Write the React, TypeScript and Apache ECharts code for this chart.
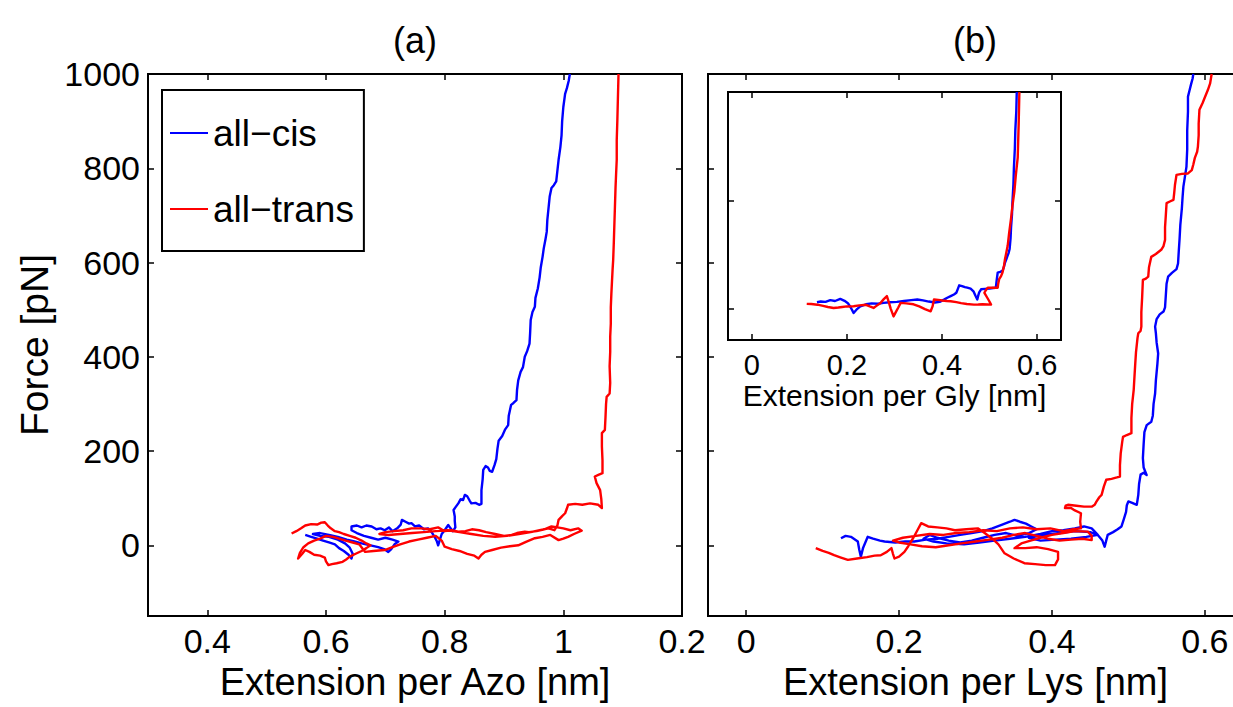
import React, { useEffect, useRef } from "react";
import * as echarts from "echarts";

// Panel (a): extension per Azo [nm] vs force [pN]
const cisA: number[][] = [
  [0.565, 22], [0.575, 18], [0.585, 14], [0.595, 10], [0.605, 6], [0.615, 2], [0.622, -6], [0.63, -12],
  [0.638, -20], [0.643, -28], [0.645, -18], [0.64, -5], [0.632, 4], [0.62, 12], [0.605, 18], [0.59, 20],
  [0.578, 24], [0.59, 26], [0.605, 22], [0.62, 18], [0.635, 12], [0.648, 8], [0.66, 4], [0.675, 0],
  [0.688, -4], [0.698, -8], [0.705, -14], [0.71, -8], [0.716, 3], [0.722, 8], [0.712, 12], [0.7, 16],
  [0.688, 12], [0.676, 16], [0.664, 20], [0.652, 26], [0.643, 32], [0.643, 40], [0.652, 42], [0.66, 38],
  [0.668, 42], [0.677, 40], [0.685, 34], [0.692, 36], [0.699, 32], [0.706, 38], [0.712, 30], [0.72, 36],
  [0.726, 44], [0.728, 54], [0.734, 50], [0.74, 46], [0.744, 47], [0.75, 40], [0.757, 42], [0.765, 34],
  [0.772, 36], [0.778, 28], [0.783, 18], [0.787, 8], [0.789, 0], [0.792, 12], [0.795, 24], [0.8, 32],
  [0.806, 43], [0.81, 36], [0.814, 30], [0.818, 38], [0.817, 52], [0.817, 61], [0.815, 75], [0.819, 82],
  [0.823, 89], [0.827, 98], [0.831, 96], [0.834, 107], [0.838, 104], [0.842, 95], [0.845, 89], [0.852, 90],
  [0.858, 86], [0.862, 88], [0.862, 117], [0.864, 140], [0.865, 160], [0.869, 168], [0.873, 165], [0.876, 158],
  [0.88, 156], [0.884, 170], [0.887, 183], [0.889, 205], [0.891, 222], [0.897, 232], [0.902, 246], [0.907, 255],
  [0.908, 275], [0.912, 298], [0.916, 302], [0.921, 308], [0.922, 330], [0.924, 350], [0.928, 368], [0.932, 378],
  [0.935, 400], [0.939, 412], [0.943, 428], [0.944, 450], [0.945, 478], [0.948, 495], [0.952, 506], [0.953, 525],
  [0.957, 545], [0.96, 568], [0.962, 590], [0.965, 612], [0.967, 630], [0.97, 650], [0.972, 665], [0.973, 690],
  [0.975, 715], [0.977, 740], [0.98, 758], [0.984, 764], [0.988, 772], [0.99, 795], [0.992, 818], [0.995, 845],
  [0.997, 870], [0.998, 900], [1.0, 930], [1.003, 958], [1.006, 970], [1.009, 985], [1.011, 1000],
];

const transA: number[][] = [
  [0.542, 25], [0.55, 30], [0.558, 36], [0.565, 42], [0.575, 45], [0.585, 44], [0.592, 48], [0.598, 49],
  [0.603, 42], [0.608, 36], [0.615, 30], [0.622, 28], [0.63, 24], [0.64, 20], [0.65, 16], [0.66, 10],
  [0.668, 4], [0.675, 0], [0.668, -6], [0.66, -12], [0.65, -18], [0.64, -24], [0.634, -30], [0.628, -35],
  [0.618, -38], [0.61, -40], [0.604, -42], [0.6, -34], [0.598, -26], [0.59, -22], [0.58, -20], [0.572, -14],
  [0.565, -10], [0.56, -18], [0.553, -28], [0.556, -16], [0.562, -4], [0.57, 4], [0.58, 10], [0.59, 14],
  [0.6, 20], [0.612, 18], [0.622, 14], [0.633, 10], [0.645, 6], [0.656, 2], [0.666, -14], [0.68, -12],
  [0.699, -10], [0.712, -4], [0.725, 2], [0.74, 8], [0.755, 12], [0.77, 16], [0.785, 20], [0.795, 10],
  [0.8, -3], [0.812, -8], [0.825, -12], [0.838, -18], [0.85, -22], [0.857, -28], [0.862, -20], [0.868, -14],
  [0.88, -10], [0.895, -5], [0.91, -2], [0.924, 0], [0.938, 8], [0.952, 15], [0.965, 18], [0.978, 22],
  [0.992, 11], [1.0, 14], [1.008, 18], [1.018, 24], [1.031, 31], [1.025, 36], [1.012, 32], [1.0, 36],
  [0.99, 38], [0.98, 40], [0.968, 34], [0.955, 30], [0.942, 28], [0.935, 29], [0.922, 26], [0.913, 22],
  [0.9, 20], [0.885, 24], [0.87, 28], [0.858, 32], [0.846, 34], [0.835, 30], [0.823, 29], [0.812, 32],
  [0.8, 30], [0.789, 38], [0.775, 34], [0.76, 36], [0.744, 36], [0.73, 32], [0.715, 30], [0.7, 28],
  [0.69, 24], [0.705, 22], [0.725, 24], [0.745, 26], [0.765, 28], [0.785, 30], [0.805, 32], [0.825, 28],
  [0.845, 24], [0.865, 20], [0.885, 18], [0.905, 20], [0.925, 24], [0.945, 28], [0.96, 32], [0.975, 36],
  [0.985, 32], [0.99, 42], [0.992, 54], [0.998, 62], [1.003, 68], [1.006, 78], [1.008, 86], [1.02, 88],
  [1.032, 86], [1.045, 89], [1.059, 86], [1.065, 79], [1.064, 98], [1.062, 117], [1.056, 132], [1.053, 146],
  [1.06, 150], [1.066, 153], [1.066, 180], [1.065, 210], [1.065, 238], [1.07, 245], [1.071, 270], [1.072, 300],
  [1.073, 315], [1.078, 322], [1.079, 345], [1.078, 380], [1.079, 410], [1.079, 443], [1.08, 470], [1.08, 505],
  [1.081, 535], [1.082, 560], [1.083, 585], [1.084, 605], [1.085, 640], [1.086, 680], [1.087, 720], [1.088, 760],
  [1.089, 790], [1.09, 818], [1.09, 860], [1.091, 900], [1.092, 950], [1.093, 1000],
];

// Panel (b): extension per Lys [nm] vs force [pN]
const cisB: number[][] = [
  [0.124, 15], [0.13, 20], [0.137, 18], [0.146, 8], [0.148, -10], [0.15, -24], [0.153, -5], [0.159, 18],
  [0.166, 14], [0.175, 10], [0.181, 8], [0.195, 6], [0.208, 8], [0.22, 8], [0.235, 12], [0.25, 14],
  [0.265, 18], [0.28, 22], [0.295, 26], [0.31, 30], [0.322, 36], [0.335, 44], [0.345, 50], [0.351, 54],
  [0.358, 50], [0.366, 46], [0.373, 40], [0.38, 34], [0.37, 26], [0.355, 20], [0.34, 26], [0.325, 22],
  [0.31, 16], [0.295, 10], [0.28, 6], [0.265, 10], [0.25, 16], [0.24, 22], [0.232, 14], [0.245, 8],
  [0.262, 4], [0.285, 2], [0.305, 6], [0.325, 10], [0.345, 14], [0.365, 18], [0.385, 24], [0.4, 30],
  [0.415, 32], [0.43, 36], [0.442, 40], [0.452, 36], [0.46, 22], [0.445, 18], [0.425, 14], [0.405, 12],
  [0.385, 10], [0.37, 16], [0.39, 22], [0.41, 26], [0.43, 30], [0.45, 28], [0.46, 22], [0.466, 10],
  [0.469, -3], [0.471, 10], [0.473, 22], [0.48, 28], [0.486, 34], [0.491, 40], [0.494, 55], [0.497, 71],
  [0.498, 85], [0.5, 93], [0.505, 90], [0.511, 86], [0.512, 96], [0.513, 107], [0.514, 130], [0.516, 150],
  [0.52, 154], [0.524, 149], [0.52, 165], [0.519, 185], [0.52, 215], [0.521, 240], [0.524, 255], [0.53, 262],
  [0.532, 275], [0.533, 300], [0.535, 322], [0.536, 350], [0.538, 385], [0.539, 407], [0.537, 430], [0.536, 450],
  [0.535, 464], [0.537, 480], [0.541, 490], [0.546, 496], [0.548, 505], [0.549, 530], [0.55, 555], [0.552, 570],
  [0.557, 578], [0.563, 586], [0.565, 598], [0.566, 625], [0.567, 650], [0.568, 680], [0.57, 715], [0.571, 740],
  [0.572, 761], [0.574, 782], [0.576, 803], [0.577, 840], [0.577, 880], [0.578, 920], [0.578, 952], [0.58, 965],
  [0.582, 978], [0.584, 990], [0.585, 1000],
];

const transB: number[][] = [
  [0.091, -6], [0.1, -12], [0.108, -16], [0.115, -21], [0.124, -26], [0.133, -31], [0.145, -28], [0.158, -25],
  [0.168, -22], [0.176, -21], [0.184, -14], [0.19, -6], [0.192, -18], [0.194, -28], [0.2, -24], [0.207, -14],
  [0.212, -2], [0.218, 14], [0.224, 32], [0.229, 47], [0.238, 40], [0.25, 38], [0.262, 36], [0.273, 32],
  [0.288, 34], [0.303, 36], [0.312, 26], [0.322, 14], [0.33, 2], [0.338, -17], [0.35, -28], [0.364, -38],
  [0.378, -40], [0.392, -42], [0.404, -42], [0.408, -30], [0.408, -14], [0.395, -8], [0.38, -4], [0.365, -6],
  [0.351, -6], [0.36, 4], [0.372, 10], [0.385, 16], [0.4, 22], [0.415, 26], [0.43, 30], [0.447, 29],
  [0.452, 20], [0.452, 11], [0.44, 14], [0.425, 12], [0.41, 10], [0.395, 14], [0.38, 20], [0.365, 26],
  [0.35, 22], [0.335, 16], [0.318, 12], [0.3, 8], [0.282, 4], [0.265, 0], [0.248, -4], [0.23, -2],
  [0.215, 2], [0.2, 6], [0.192, 10], [0.205, 16], [0.222, 20], [0.24, 24], [0.258, 22], [0.275, 26],
  [0.292, 28], [0.31, 32], [0.328, 30], [0.345, 36], [0.362, 38], [0.38, 34], [0.398, 36], [0.415, 30],
  [0.428, 34], [0.438, 36], [0.437, 50], [0.438, 68], [0.43, 74], [0.425, 79], [0.417, 79], [0.418, 84],
  [0.421, 86], [0.432, 84], [0.442, 82], [0.452, 82], [0.456, 86], [0.458, 92], [0.462, 102], [0.465, 107],
  [0.468, 125], [0.471, 139], [0.478, 141], [0.485, 144], [0.489, 146], [0.489, 170], [0.49, 195], [0.492, 220],
  [0.493, 230], [0.498, 234], [0.504, 238], [0.504, 270], [0.505, 300], [0.507, 330], [0.508, 358], [0.509, 385],
  [0.51, 410], [0.512, 440], [0.513, 450], [0.516, 455], [0.517, 464], [0.517, 495], [0.518, 525], [0.519, 563],
  [0.523, 566], [0.526, 570], [0.527, 590], [0.529, 605], [0.53, 612], [0.536, 618], [0.543, 627], [0.546, 635],
  [0.548, 648], [0.548, 675], [0.549, 700], [0.55, 726], [0.555, 730], [0.559, 733], [0.56, 748], [0.561, 765],
  [0.563, 786], [0.57, 788], [0.578, 789], [0.583, 796], [0.585, 808], [0.587, 822], [0.59, 835], [0.591, 846],
  [0.592, 870], [0.592, 895], [0.593, 924], [0.597, 938], [0.6, 950], [0.604, 966], [0.607, 980], [0.609, 1000],
];

// Inset: extension per Gly [nm] vs force
const cisInset: number[][] = [
  [0.137, 59], [0.145, 65], [0.155, 62], [0.165, 78], [0.175, 70], [0.186, 90], [0.195, 72], [0.202, 50],
  [0.208, 10], [0.214, -40], [0.22, -10], [0.228, 20], [0.24, 40], [0.252, 48], [0.265, 45], [0.277, 53],
  [0.29, 58], [0.305, 62], [0.32, 70], [0.335, 78], [0.348, 84], [0.36, 76], [0.372, 65], [0.385, 56],
  [0.395, 62], [0.405, 85], [0.411, 100], [0.418, 115], [0.425, 130], [0.43, 146], [0.433, 180], [0.436, 215],
  [0.442, 208], [0.448, 198], [0.453, 193], [0.46, 185], [0.466, 160], [0.47, 120], [0.474, 84], [0.476, 120],
  [0.478, 150], [0.482, 178], [0.49, 182], [0.5, 185], [0.507, 190], [0.513, 193], [0.514, 230], [0.515, 270],
  [0.517, 333], [0.522, 340], [0.527, 349], [0.53, 385], [0.532, 420], [0.535, 455], [0.537, 480], [0.54, 515],
  [0.542, 551], [0.544, 650], [0.545, 750], [0.547, 870], [0.548, 988], [0.55, 1150], [0.551, 1300], [0.553, 1480],
  [0.554, 1650], [0.556, 1820], [0.557, 2000],
];

const transInset: number[][] = [
  [0.1155, 44], [0.125, 42], [0.138, 36], [0.15, 25], [0.16, 15], [0.172, 6], [0.182, 10], [0.19, 15],
  [0.2, 20], [0.214, 22], [0.226, 30], [0.24, 35], [0.248, 20], [0.256, 6], [0.262, 25], [0.27, 50],
  [0.277, 85], [0.284, 115], [0.288, 60], [0.292, 0], [0.298, -72], [0.303, -30], [0.308, 10], [0.313, 53],
  [0.325, 48], [0.34, 40], [0.352, 20], [0.364, -5], [0.376, -25], [0.38, 20], [0.383, 84], [0.392, 80],
  [0.4, 75], [0.41, 70], [0.418, 68], [0.43, 60], [0.44, 50], [0.452, 42], [0.467, 37], [0.476, 38],
  [0.485, 40], [0.495, 38], [0.503, 37], [0.499, 70], [0.495, 100], [0.489, 146], [0.492, 170], [0.496, 193],
  [0.505, 193], [0.511, 192], [0.517, 193], [0.518, 230], [0.52, 271], [0.524, 300], [0.527, 333], [0.53, 390],
  [0.532, 450], [0.535, 515], [0.538, 582], [0.541, 700], [0.545, 832], [0.548, 950], [0.552, 1081], [0.555, 1230],
  [0.559, 1393], [0.561, 1700], [0.5625, 2000],
];

const ticksAzo = [0.4, 0.6, 0.8, 1, 1.2];
const ticksLys = [0, 0.2, 0.4, 0.6];
const ticksGly = [0, 0.2, 0.4, 0.6];
const ticksForce = [0, 200, 400, 600, 800, 1000];
const ticksInsetForce = [0, 1000];

const FONT = "'Liberation Sans', Arial, Helvetica, sans-serif";
const BLUE = "#0000ff";
const RED = "#ff0000";

function axisX(gridIndex: number, min: number, max: number, ticks: number[], opts: any) {
  const { labels, position, name, fontSize, nameSize, nameGap, margin, z } = opts;
  return {
    type: "value",
    gridIndex,
    position,
    min,
    max,
    z,
    name: name || "",
    nameLocation: "middle",
    nameGap: nameGap || 0,
    nameTextStyle: { fontFamily: FONT, fontSize: nameSize || 36, color: "#000" },
    axisLine: { show: false, onZero: false },
    axisTick: { show: true, inside: true, length: 6, customValues: ticks, lineStyle: { color: "#000", width: 1.5 } },
    axisLabel: labels
      ? {
          show: true,
          customValues: ticks,
          margin: margin || 8,
          fontFamily: FONT,
          fontSize: fontSize || 34,
          color: "#000",
          formatter: (v: number) => (Math.abs(v - 1.2) < 1e-9 ? "0.2" : String(+v.toFixed(2))),
        }
      : { show: false },
    splitLine: { show: false },
  };
}

function axisY(gridIndex: number, min: number, max: number, ticks: number[], opts: any) {
  const { labels, position, name, fontSize, nameSize, nameGap, margin, z } = opts;
  return {
    type: "value",
    gridIndex,
    position,
    min,
    max,
    z,
    name: name || "",
    nameLocation: "middle",
    nameGap: nameGap || 0,
    nameTextStyle: { fontFamily: FONT, fontSize: nameSize || 36, color: "#000" },
    axisLine: { show: false, onZero: false },
    axisTick: { show: true, inside: true, length: 6, customValues: ticks, lineStyle: { color: "#000", width: 1.5 } },
    axisLabel: labels
      ? {
          show: true,
          customValues: ticks,
          margin: margin || 8,
          fontFamily: FONT,
          fontSize: fontSize || 34,
          color: "#000",
          formatter: (v: number) => String(Math.round(v)),
        }
      : { show: false },
    splitLine: { show: false },
  };
}

function line(name: string, data: number[][], color: string, xi: number, yi: number, z: number) {
  return {
    type: "line",
    name,
    data,
    xAxisIndex: xi,
    yAxisIndex: yi,
    symbol: "none",
    showSymbol: false,
    smooth: false,
    z,
    clip: true,
    lineStyle: { color, width: 2.4, join: "round" },
    itemStyle: { color },
  };
}

export default function App() {
  const ref = useRef<HTMLDivElement>(null);
  useEffect(() => {
    const chart = echarts.init(ref.current!, null, { renderer: "svg" });
    const option: any = {
      animation: false,
      backgroundColor: "#fff",
      textStyle: { fontFamily: FONT },
      grid: [
        { left: 148, top: 74, width: 534, height: 542, show: true, borderColor: "#000", borderWidth: 2, backgroundColor: "#fff", containLabel: false, outerBoundsMode: "none" },
        { left: 708, top: 74, width: 535, height: 542, show: true, borderColor: "#000", borderWidth: 2, backgroundColor: "#fff", containLabel: false, outerBoundsMode: "none" },
        { left: 728, top: 92, width: 333, height: 248, show: true, borderColor: "#000", borderWidth: 2, backgroundColor: "#fff", containLabel: false, outerBoundsMode: "none", z: 5 },
      ],
      xAxis: [
        axisX(0, 0.3, 1.2, ticksAzo, { labels: true, position: "bottom", name: "Extension per Azo [nm]", nameSize: 38, nameGap: 47 }),
        axisX(0, 0.3, 1.2, ticksAzo, { labels: false, position: "top" }),
        axisX(1, -0.05, 0.65, ticksLys, { labels: true, position: "bottom", name: "Extension per Lys [nm]", nameSize: 38, nameGap: 47 }),
        axisX(1, -0.05, 0.65, ticksLys, { labels: false, position: "top" }),
        axisX(2, -0.05, 0.65, ticksGly, { labels: true, position: "bottom", name: "Extension per Gly [nm]", nameSize: 30, nameGap: 40, fontSize: 29, margin: 10, z: 6 }),
        axisX(2, -0.05, 0.65, ticksGly, { labels: false, position: "top", z: 6 }),
      ],
      yAxis: [
        axisY(0, -150, 1000, ticksForce, { labels: true, position: "left", name: "Force [pN]", nameSize: 39, nameGap: 94 }),
        axisY(0, -150, 1000, ticksForce, { labels: false, position: "right" }),
        axisY(1, -150, 1000, ticksForce, { labels: false, position: "left" }),
        axisY(1, -150, 1000, ticksForce, { labels: false, position: "right" }),
        axisY(2, -290, 2000, ticksInsetForce, { labels: false, position: "left", z: 6 }),
        axisY(2, -290, 2000, ticksInsetForce, { labels: false, position: "right", z: 6 }),
      ],
      legend: {
        data: ["all−cis", "all−trans"],
        orient: "vertical",
        left: 162,
        top: 90,
        backgroundColor: "#fff",
        borderColor: "#000",
        borderWidth: 2,
        borderRadius: 0,
        padding: [23, 10, 22, 8],
        icon: "rect",
        itemWidth: 38,
        itemHeight: 2,
        itemGap: 36,
        selectedMode: false,
        textStyle: { fontFamily: FONT, fontSize: 37, color: "#000", lineHeight: 40 },
      },
      graphic: [
        { type: "text", x: 415, y: 40, style: { text: "(a)", fontFamily: FONT, fontSize: 36, fill: "#000", align: "center", verticalAlign: "middle" } },
        { type: "text", x: 975, y: 40, style: { text: "(b)", fontFamily: FONT, fontSize: 36, fill: "#000", align: "center", verticalAlign: "middle" } },
      ],
      series: [
        line("all−cis", cisA, BLUE, 0, 0, 2),
        line("all−trans", transA, RED, 0, 0, 2),
        line("all−cis", cisB, BLUE, 2, 2, 2),
        line("all−trans", transB, RED, 2, 2, 2),
        line("all−cis", cisInset, BLUE, 4, 4, 7),
        line("all−trans", transInset, RED, 4, 4, 7),
      ],
    };
    chart.setOption(option);
    return () => chart.dispose();
  }, []);
  return (
    <div
      ref={ref}
      style={{ position: "absolute", left: 0, top: 0, width: 1233, height: 707, background: "#fff" }}
    />
  );
}
